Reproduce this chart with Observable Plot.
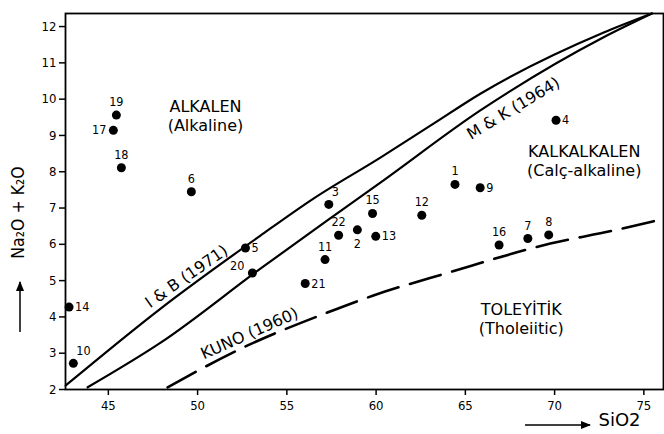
<!DOCTYPE html>
<html><head><meta charset="utf-8">
<script src="https://cdn.jsdelivr.net/npm/d3@7"></script>
<script src="https://cdn.jsdelivr.net/npm/@observablehq/plot@0.6"></script>
<style>body{margin:0;background:#fff}</style>
</head><body><div id="chart"></div>
<script>
// Samples (numbered points)
const sampleIds = [1,2,3,4,5,6,7,8,9,10,11,12,13,14,15,16,17,18,19,20,21,22];
const sampleSiO2 = [64.42,58.95,57.35,70.08,52.68,49.65,68.5,69.67,65.83,43.04,57.14,62.56,59.98,42.8,59.8,66.89,45.28,45.73,45.45,53.07,56.03,57.9];
const sampleAlk  = [7.65,6.40,7.10,9.42,5.90,7.45,6.16,6.26,7.56,2.72,5.58,6.80,6.22,4.27,6.85,5.98,9.14,8.11,9.56,5.21,4.92,6.25];

// Dividing curves
const ibSiO2 = [42.61,47.93,53.52,56.49,60.24,63.04,65.84,72.72,75.45];
const ibAlk  = [2.11,4.23,6.24,7.26,8.39,9.27,10.15,11.83,12.36];
const mkSiO2 = [43.84,47.93,53.52,57.27,60.24,65.84,72.72,75.45];
const mkAlk  = [2.06,3.29,5.33,6.66,7.70,9.69,11.70,12.36];
const kunoSiO2 = [48.32,52.57,57.27,59.85,64.05,69.76,73.28,76.08];
const kunoAlk  = [2.06,3.16,4.12,4.59,5.22,6.02,6.38,6.70];

// Tick labels
const xTicks = [45,50,55,60,65,70,75];
const yTicks = [2,3,4,5,6,7,8,9,10,11,12];

// Region labels (anchored in data space)
const regionText = ["ALKALEN\n(Alkaline)", "KALKALKALEN\n(Calç-alkaline)", "TOLEYİTİK\n(Tholeiitic)"];
const regionSiO2 = [50.44, 71.66, 68.13];
const regionAlk  = [9.55, 8.31, 3.96];

// Curve labels
const curveText = ["I & B (1971)", "M & K (1964)", "KUNO (1960)"];
const curveSiO2 = [49.38, 67.69, 52.91];
const curveAlk  = [5.11, 9.74, 3.54];
const curveAngle = [-35, -31, -24];

const samples = sampleIds.map((id, i) => ({id, sio2: sampleSiO2[i], alk: sampleAlk[i]}));
const toPts = (xs, ys) => xs.map((x, i) => ({sio2: x, alk: ys[i]}));
const ib = toPts(ibSiO2, ibAlk), mk = toPts(mkSiO2, mkAlk), kuno = toPts(kunoSiO2, kunoAlk);
const regions = regionText.map((t, i) => ({t, sio2: regionSiO2[i], alk: regionAlk[i]}));
const curves = curveText.map((t, i) => ({t, sio2: curveSiO2[i], alk: curveAlk[i], a: curveAngle[i]}));

const above = [19,18,6,11,22,15,12,1,16,7,8];
const right = [5,21,13,9,4,14];
const left = [17];
const below = [2];
const upLeft = [20];
const upRight = [10,3];

const COND = "'DejaVu Sans Condensed','Liberation Sans Narrow','DejaVu Sans',sans-serif";
const WIDE = "'DejaVu Sans',sans-serif";
const lab = (ids, o) => Plot.text(samples, {filter: d => ids.includes(d.id), x: "sio2", y: "alk", text: d => String(d.id), fontSize: 12.5, fill: "#000", ...o});

const chart = Plot.plot({
  width: 664, height: 434,
  marginLeft: 65, marginRight: 1, marginTop: 13, marginBottom: 45,
  style: {fontFamily: COND, background: "#fff", color: "#000"},
  x: {domain: [42.6, 76.1]},
  y: {domain: [2, 12.36]},
  marks: [
    Plot.frame({stroke: "#000", strokeWidth: 1.8}),
    Plot.axisX({ticks: xTicks, tickSize: 6, tickPadding: 5, fontSize: 13, label: null, strokeWidth: 1.5}),
    Plot.axisY({ticks: yTicks, tickSize: 6, tickPadding: 3, fontSize: 13, label: null, strokeWidth: 1.5}),
    Plot.line(ib, {x: "sio2", y: "alk", curve: "monotone-x", stroke: "#000", strokeWidth: 2.2}),
    Plot.line(mk, {x: "sio2", y: "alk", curve: "monotone-x", stroke: "#000", strokeWidth: 2.2}),
    Plot.line(kuno, {x: "sio2", y: "alk", curve: "monotone-x", stroke: "#000", strokeWidth: 2.6, strokeDasharray: "32,12"}),
    Plot.dot(samples, {x: "sio2", y: "alk", r: 4.5, fill: "#000", stroke: "none"}),
    lab(above, {dy: -13}),
    lab(right, {dx: 6, textAnchor: "start"}),
    lab(left, {dx: -7, textAnchor: "end"}),
    lab(below, {dy: 14}),
    lab(upLeft, {dx: -8, dy: -7, textAnchor: "end"}),
    lab(upRight, {dx: 3, dy: -12, textAnchor: "start"}),
    Plot.text(regions, {x: "sio2", y: "alk", text: "t", fontSize: 16, fontFamily: WIDE, lineHeight: 1.2, fill: "#000"}),
    Plot.text(curves, {x: "sio2", y: "alk", text: "t", rotate: "a", fontSize: 16, fontFamily: WIDE, fill: "#000"}),
    Plot.text(["Na₂O + K₂O"], {frameAnchor: "left", textAnchor: "middle", dx: -47, dy: 11, rotate: -90, fontSize: 17.5, fill: "#000"}),
    Plot.text(["SiO2"], {frameAnchor: "bottom-right", textAnchor: "start", dx: -65, dy: 36, fontSize: 18, fontFamily: WIDE, fill: "#000"})
  ]
});
document.getElementById("chart").appendChild(chart);

// axis-label arrows
const svg = d3.select(chart);
svg.append("defs").append("marker").attr("id", "ah").attr("viewBox", "0 0 10 10").attr("refX", 9).attr("refY", 5)
  .attr("markerWidth", 7).attr("markerHeight", 7).attr("orient", "auto")
  .append("path").attr("d", "M0,1L10,5L0,9Z").attr("fill", "#000");
svg.append("line").attr("x1", 20).attr("y1", 332).attr("x2", 20).attr("y2", 282)
  .attr("stroke", "#000").attr("stroke-width", 1.5).attr("marker-end", "url(#ah)");
svg.append("line").attr("x1", 525).attr("y1", 425).attr("x2", 590).attr("y2", 425)
  .attr("stroke", "#000").attr("stroke-width", 1.5).attr("marker-end", "url(#ah)");
</script>
</body></html>
